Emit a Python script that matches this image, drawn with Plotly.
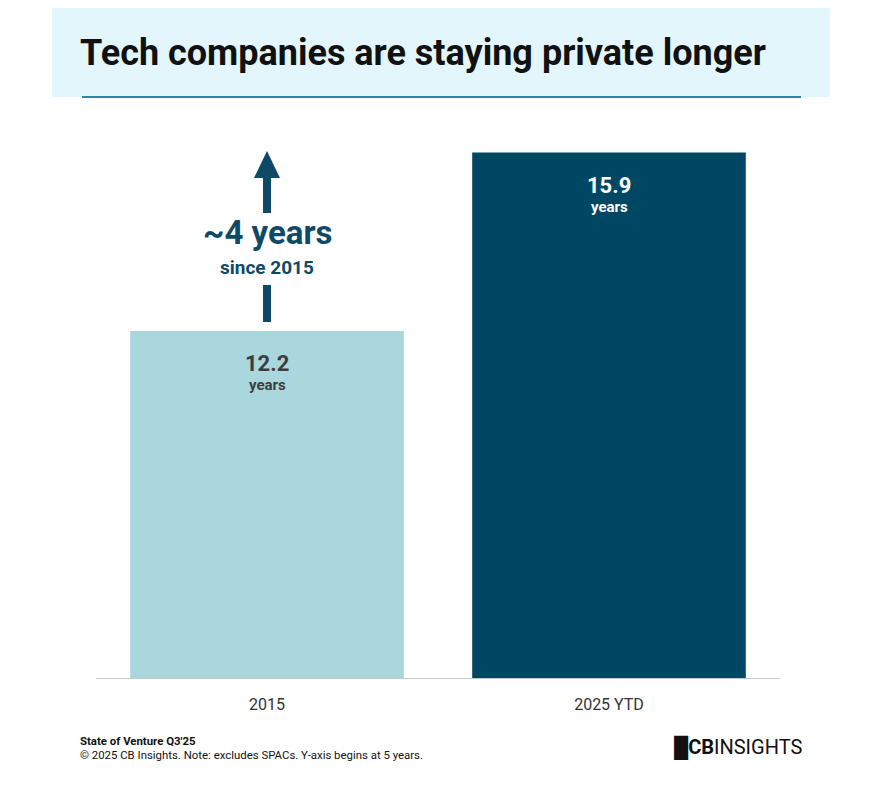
import plotly.graph_objects as go

# page is drawn with an 8px body margin, so reference pixels are shifted by OFF
OFF = 8
W, H = 870, 798
ML, MR, MT, MB = 96 - OFF, 90 + OFF, 120 - OFF, 120 + OFF

categories = ["2015", "2025 YTD"]
years_private = [12.2, 15.9]
bar_colors = ["#aad6de", "#004764"]
label_colors = ["#3d3d3d", "#ffffff"]
y_min = 5
px_per_unit = 48.2
y_max = y_min + (H - MT - MB) / px_per_unit


def px_x(x):
    return (x - OFF - ML) / (W - ML - MR)


def px_y(y):
    return (H - MB - (y - OFF)) / (H - MT - MB)


def px_val(y):
    return y_min + (H - MB - (y - OFF)) / px_per_unit


fig = go.Figure()
fig.add_trace(go.Bar(
    x=categories, y=years_private, base=0,
    marker=dict(color=bar_colors, line=dict(width=0)),
    hoverinfo="skip",
))

annotations = []
for i, (v, c) in enumerate(zip(years_private, label_colors)):
    annotations.append(dict(
        x=i, y=v, yshift=-18, text=f"<b>{v:.1f}</b>", showarrow=False,
        yanchor="top", font=dict(size=22, color=c, family="Roboto"),
    ))
    annotations.append(dict(
        x=i, y=v, yshift=-43, text="<b>years</b>", showarrow=False,
        yanchor="top", font=dict(size=15, color=c, family="Roboto"),
    ))

arrow_color = "#0e4a66"
shapes = []
# arrow from 2015 bar toward 2025 level
shapes.append(dict(type="line", xref="x", yref="y", x0=0, x1=0,
                   y0=px_val(322), y1=px_val(285), line=dict(color=arrow_color, width=8)))
shapes.append(dict(type="line", xref="x", yref="y", x0=0, x1=0,
                   y0=px_val(213), y1=px_val(176), line=dict(color=arrow_color, width=8)))
hx = 13 / 342
shapes.append(dict(type="path", xref="x", yref="y",
                   path=f"M {-hx} {px_val(178)} L {hx} {px_val(178)} L 0 {px_val(151)} Z",
                   fillcolor=arrow_color, line=dict(width=0)))
annotations.append(dict(x=0, y=px_val(232), text="<b>~4 years</b>", showarrow=False,
                        yanchor="middle", font=dict(size=33, color=arrow_color, family="Roboto")))
annotations.append(dict(x=0, y=px_val(267), text="<b>since 2015</b>", showarrow=False,
                        yanchor="middle", font=dict(size=19, color=arrow_color, family="Roboto")))

# title band
shapes.append(dict(type="rect", xref="paper", yref="paper", x0=px_x(52), x1=px_x(830),
                   y0=px_y(97), y1=px_y(4), fillcolor="#e3f6fb", line=dict(width=0), layer="below"))
shapes.append(dict(type="line", xref="paper", yref="paper", x0=px_x(82), x1=px_x(801),
                   y0=px_y(97), y1=px_y(97), line=dict(color="#2a8aa0", width=2)))
annotations.append(dict(xref="paper", yref="paper", x=px_x(78), y=px_y(53), xanchor="left",
                        yanchor="middle", text="<b>Tech companies are staying private longer</b>",
                        showarrow=False, font=dict(size=36, color="#111111", family="Roboto")))

# footer
annotations.append(dict(xref="paper", yref="paper", x=px_x(78), y=px_y(741), xanchor="left",
                        yanchor="middle", text="<b>State of Venture Q3'25</b>", showarrow=False,
                        font=dict(size=11.4, color="#111111", family="Roboto")))
annotations.append(dict(xref="paper", yref="paper", x=px_x(78), y=px_y(755), xanchor="left",
                        yanchor="middle",
                        text="© 2025 CB Insights. Note: excludes SPACs. Y-axis begins at 5 years.",
                        showarrow=False, font=dict(size=11.4, color="#111111", family="Roboto")))
annotations.append(dict(xref="paper", yref="paper", x=px_x(804), y=px_y(748), xanchor="right",
                        yanchor="middle", text="<b>█CB</b>INSIGHTS", showarrow=False,
                        font=dict(size=20, color="#111111", family="Roboto")))

fig.update_layout(
    width=W, height=H,
    margin=dict(l=ML, r=MR, t=MT, b=MB),
    plot_bgcolor="white", paper_bgcolor="white",
    bargap=0.2, showlegend=False,
    shapes=shapes, annotations=annotations,
    font=dict(family="Roboto"),
)
fig.update_xaxes(type="category", range=[-0.5, 1.5], showline=True, linecolor="#c8c8c8",
                 linewidth=1, ticks="", ticklabelstandoff=12,
                 tickfont=dict(size=16, color="#333333"), fixedrange=True)
fig.update_yaxes(range=[y_min, y_max], visible=False, showgrid=False)

fig.write_html("out.html")
